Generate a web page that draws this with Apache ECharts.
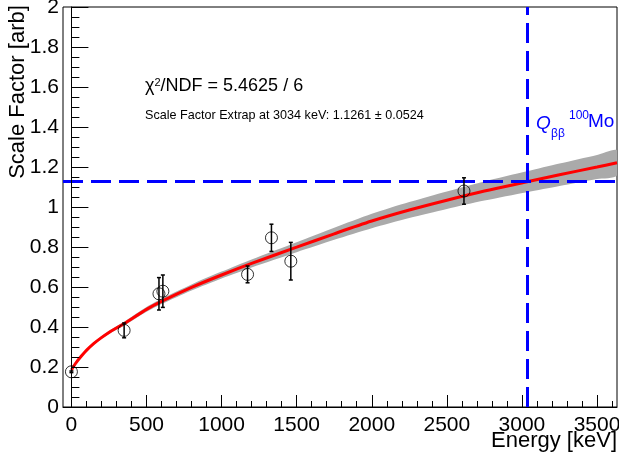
<!DOCTYPE html>
<html><head><meta charset="utf-8">
<script src="https://cdn.jsdelivr.net/npm/echarts@6/dist/echarts.min.js"></script>
<style>html,body{margin:0;padding:0;background:#fff}#c{width:619px;height:459px}</style>
</head><body><div id="c"></div>
<script>
// Measured points
const energies     = [0, 351, 583, 609, 1173, 1332, 1461, 2614];
const scaleFactors = [0.176, 0.383, 0.566, 0.579, 0.663, 0.846, 0.729, 1.080];
const errors       = [0.004, 0.037, 0.081, 0.081, 0.042, 0.068, 0.094, 0.066];

// Fit curve and its uncertainty band
const fitEnergies = [0, 25, 50, 100, 150, 200, 250, 300, 350, 500, 600, 800, 1000, 1200, 1500, 1750, 2000, 2250, 2500, 2750, 3034, 3250, 3500, 3633];
const fitValues   = [0.185, 0.215, 0.24, 0.283, 0.318, 0.347, 0.373, 0.395, 0.416, 0.488, 0.528, 0.598, 0.66, 0.718, 0.799, 0.866, 0.93, 0.985, 1.034, 1.08, 1.126, 1.161, 1.2, 1.221];
const bandLow     = [0.179, 0.209, 0.234, 0.277, 0.311, 0.340, 0.365, 0.386, 0.406, 0.476, 0.515, 0.583, 0.643, 0.698, 0.774, 0.836, 0.894, 0.945, 0.990, 1.032, 1.0737, 1.105, 1.140, 1.158];
const bandHigh    = [0.191, 0.221, 0.246, 0.289, 0.325, 0.354, 0.381, 0.404, 0.426, 0.500, 0.541, 0.613, 0.677, 0.738, 0.824, 0.896, 0.966, 1.025, 1.078, 1.128, 1.1785, 1.217, 1.260, 1.284];

// Reference values
const qbbEnergy = 3034;
const sfExtrap = 1.1261;

// Axis ticks
const xTickLabels = [0, 500, 1000, 1500, 2000, 2500, 3000, 3500];
const xRange = [-56, 3633];
const yRange = [0, 2];

const minorX = [];
for (let v = 100; v < xRange[1]; v += 100) if (v % 500 !== 0) minorX.push(v);

const FONT = '"Liberation Sans", Arial, Helvetica, sans-serif';
const chart = echarts.init(document.getElementById('c'), null, {renderer: 'canvas'});

const axisLineStyle = {color: '#000', width: 1};

chart.setOption({
  animation: false,
  backgroundColor: '#fff',
  grid: {left: 63, right: 2, top: 7, bottom: 52, show: true, borderColor: '#000', borderWidth: 1,
         containLabel: false, outerBoundsMode: 'none'},
  xAxis: [{
    type: 'value', min: xRange[0], max: xRange[1], z: 10,
    axisLine: {show: true, lineStyle: axisLineStyle},
    axisTick: {show: true, inside: true, length: 12, customValues: xTickLabels, lineStyle: axisLineStyle},
    axisLabel: {show: true, customValues: xTickLabels, color: '#000', fontSize: 21, fontFamily: FONT, margin: 8,
                formatter: v => String(v)},
    splitLine: {show: false}
  }, {
    type: 'value', min: xRange[0], max: xRange[1], position: 'bottom', z: 10,
    axisLine: {show: false},
    axisTick: {show: true, inside: true, length: 6, customValues: minorX, lineStyle: axisLineStyle},
    axisLabel: {show: false},
    splitLine: {show: false}
  }],
  yAxis: {
    type: 'value', min: yRange[0], max: yRange[1], interval: 0.2, z: 10,
    axisLine: {show: true, lineStyle: axisLineStyle},
    axisTick: {show: true, inside: true, length: 17, lineStyle: axisLineStyle},
    minorTick: {show: true, splitNumber: 4, length: 8, lineStyle: axisLineStyle},
    splitLine: {show: false},
    axisLabel: {color: '#000', fontSize: 21, fontFamily: FONT, margin: 4, formatter: v => String(v)}
  },
  series: [
    {type: 'custom', name: 'band', z: 1, silent: true, clip: true, data: [[0, 0]],
     renderItem: function (params, api) {
       const up = [], dn = [];
       for (let i = 0; i < fitEnergies.length; i++) up.push(api.coord([fitEnergies[i], bandHigh[i]]));
       for (let i = fitEnergies.length - 1; i >= 0; i--) dn.push(api.coord([fitEnergies[i], bandLow[i]]));
       return {type: 'polygon', shape: {points: up.concat(dn), smooth: 0.25}, style: {fill: '#aaaaaa', stroke: null}};
     }},
    {type: 'line', name: 'fit', data: fitEnergies.map((e, i) => [e, fitValues[i]]),
     symbol: 'none', smooth: 0.3, lineStyle: {color: '#ff0000', width: 3}, silent: true, z: 3},
    {type: 'line', name: 'ref', data: [], silent: true, z: 4,
     markLine: {silent: true, symbol: 'none', label: {show: false},
       lineStyle: {color: '#0000ff', width: 3, type: [20, 8]},
       data: [{xAxis: qbbEnergy}, {yAxis: sfExtrap}]}},
    {type: 'custom', name: 'err', z: 5, silent: true,
     data: energies.map((e, i) => [e, scaleFactors[i], errors[i]]),
     encode: {x: 0, y: 1},
     renderItem: function (params, api) {
       const x = api.value(0), y = api.value(1), e = api.value(2);
       const lo = api.coord([x, y - e]), hi = api.coord([x, y + e]);
       const cw = 2, st = {stroke: '#000', lineWidth: 1.5};
       return {type: 'group', children: [
         {type: 'line', shape: {x1: lo[0], y1: lo[1], x2: hi[0], y2: hi[1]}, style: st},
         {type: 'line', shape: {x1: lo[0] - cw, y1: lo[1], x2: lo[0] + cw, y2: lo[1]}, style: st},
         {type: 'line', shape: {x1: hi[0] - cw, y1: hi[1], x2: hi[0] + cw, y2: hi[1]}, style: st}
       ]};
     }},
    {type: 'scatter', name: 'data', data: energies.map((e, i) => [e, scaleFactors[i]]),
     symbol: 'circle', symbolSize: 12, silent: true, z: 6,
     itemStyle: {color: 'rgba(0,0,0,0)', borderColor: '#000', borderWidth: 1}}
  ],
  graphic: [
    {type: 'text', x: 18, y: 92, rotation: Math.PI / 2, z: 100,
     style: {text: 'Scale Factor [arb]', font: '22px ' + FONT, fill: '#000', align: 'center', verticalAlign: 'middle'}},
    {type: 'text', x: 617, y: 441, z: 100,
     style: {text: 'Energy [keV]', font: '22px ' + FONT, fill: '#000', align: 'right', verticalAlign: 'middle'}},
    {type: 'text', x: 145, y: 86, z: 100,
     style: {text: '{a|χ}{s|2}{a|/NDF = 5.4625 / 6}', fill: '#000', align: 'left', verticalAlign: 'middle',
       rich: {a: {font: '18px ' + FONT, fill: '#000', verticalAlign: 'bottom'},
              s: {font: '11px ' + FONT, fill: '#000', verticalAlign: 'top'}}}},
    {type: 'text', x: 145, y: 116, z: 100,
     style: {text: 'Scale Factor Extrap at 3034 keV: 1.1261 ± 0.0524', font: '12.6px ' + FONT, fill: '#000',
       align: 'left', verticalAlign: 'middle'}},
    {type: 'text', x: 536, y: 124, z: 100,
     style: {text: 'Q', font: 'italic 19px ' + FONT, fill: '#0000ff', align: 'left', verticalAlign: 'middle'}},
    {type: 'text', x: 551, y: 134, z: 100,
     style: {text: 'ββ', font: '12px ' + FONT, fill: '#0000ff', align: 'left', verticalAlign: 'middle'}},
    {type: 'text', x: 569, y: 116, z: 100,
     style: {text: '100', font: '12px ' + FONT, fill: '#0000ff', align: 'left', verticalAlign: 'middle'}},
    {type: 'text', x: 588, y: 122, z: 100,
     style: {text: 'Mo', font: '19px ' + FONT, fill: '#0000ff', align: 'left', verticalAlign: 'middle'}}
  ]
});
</script>
</body></html>
